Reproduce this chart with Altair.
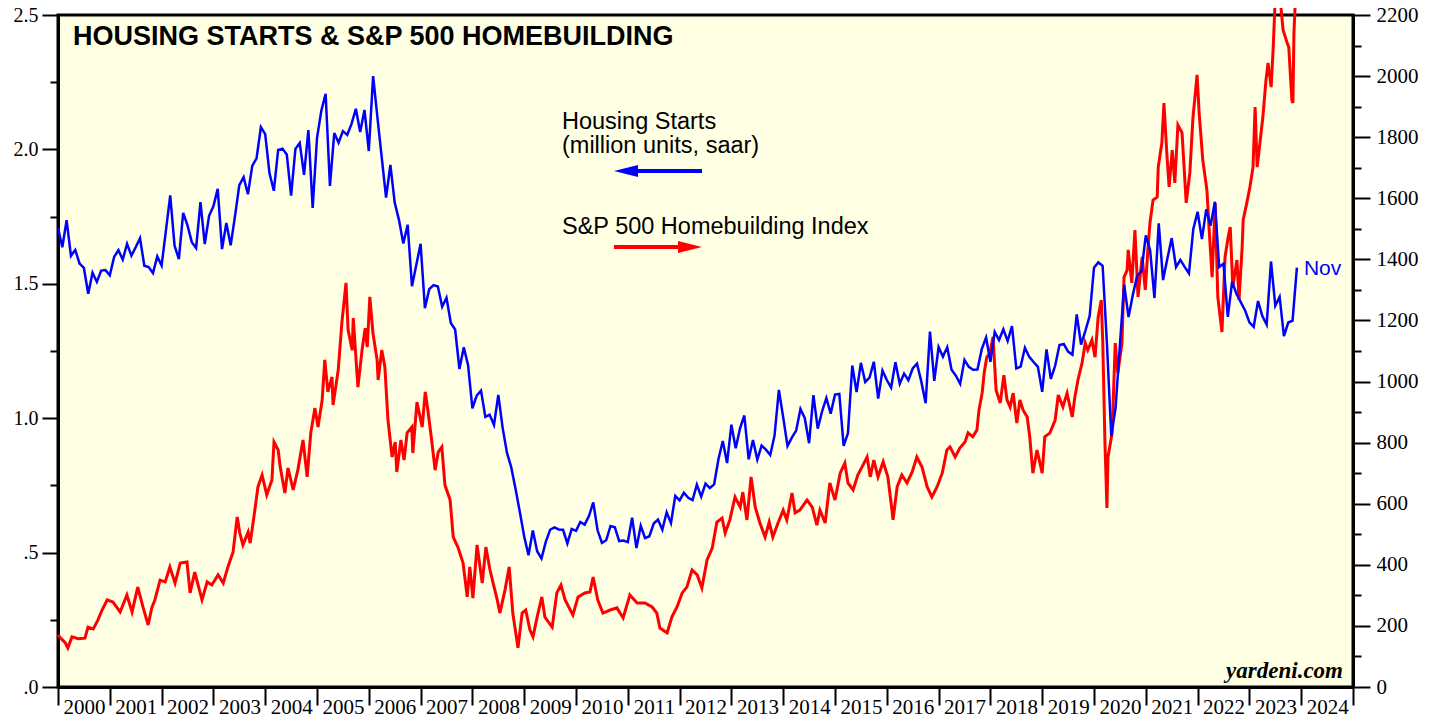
import altair as alt
import pandas as pd

# ---------------- data ----------------
# Housing starts, million units saar, monthly: Dec 1999 .. Nov 2023
housing_starts = [
    1.708,
    1.636, 1.737, 1.604, 1.626, 1.575, 1.559, 1.463, 1.541, 1.507, 1.549, 1.551, 1.532,
    1.600, 1.625, 1.590, 1.649, 1.605, 1.636, 1.670, 1.567, 1.562, 1.540, 1.602, 1.568,
    1.698, 1.829, 1.642, 1.592, 1.764, 1.717, 1.655, 1.633, 1.804, 1.648, 1.753, 1.788,
    1.853, 1.629, 1.726, 1.643, 1.751, 1.867, 1.897, 1.833, 1.939, 1.967, 2.083, 2.057,
    1.911, 1.846, 1.998, 2.003, 1.981, 1.828, 2.002, 2.024, 1.905, 2.072, 1.782, 2.042,
    2.144, 2.207, 1.864, 2.061, 2.025, 2.068, 2.054, 2.095, 2.151, 2.065, 2.147, 1.994,
    2.273, 2.119, 1.969, 1.821, 1.942, 1.802, 1.737, 1.650, 1.720, 1.491, 1.570, 1.649,
    1.409, 1.480, 1.495, 1.490, 1.415, 1.448, 1.354, 1.330, 1.183, 1.264, 1.197, 1.037,
    1.084, 1.103, 1.005, 1.013, 0.975, 1.087, 0.965, 0.872, 0.817, 0.737, 0.650, 0.560,
    0.490, 0.582, 0.505, 0.478, 0.540, 0.585, 0.594, 0.586, 0.585, 0.534, 0.588, 0.581,
    0.614, 0.604, 0.636, 0.687, 0.583, 0.536, 0.546, 0.599, 0.594, 0.543, 0.545, 0.539,
    0.630, 0.517, 0.600, 0.554, 0.561, 0.608, 0.623, 0.585, 0.650, 0.610, 0.711, 0.694,
    0.723, 0.704, 0.695, 0.753, 0.708, 0.757, 0.740, 0.754, 0.847, 0.915, 0.833, 0.976,
    0.888, 0.962, 1.010, 0.847, 0.919, 0.846, 0.898, 0.883, 0.863, 0.936, 1.105, 1.003,
    0.897, 0.928, 0.954, 1.034, 1.000, 0.907, 1.086, 0.961, 1.025, 1.075, 1.017, 1.088,
    1.090, 0.897, 0.944, 1.196, 1.097, 1.206, 1.135, 1.151, 1.210, 1.073, 1.177, 1.142,
    1.114, 1.208, 1.128, 1.166, 1.141, 1.185, 1.203, 1.136, 1.056, 1.322, 1.139, 1.265,
    1.229, 1.264, 1.180, 1.158, 1.128, 1.217, 1.191, 1.180, 1.181, 1.257, 1.300, 1.210,
    1.321, 1.291, 1.331, 1.287, 1.343, 1.185, 1.192, 1.262, 1.228, 1.209, 1.191, 1.098,
    1.256, 1.146, 1.195, 1.272, 1.276, 1.248, 1.236, 1.386, 1.274, 1.325, 1.381, 1.560,
    1.580, 1.567, 1.276, 0.934, 1.038, 1.273, 1.497, 1.376, 1.459, 1.530, 1.547, 1.680,
    1.625, 1.447, 1.725, 1.514, 1.594, 1.670, 1.562, 1.589, 1.563, 1.539, 1.703, 1.768,
    1.666, 1.777, 1.716, 1.805, 1.562, 1.575, 1.377, 1.508, 1.463, 1.432, 1.401, 1.357,
    1.340, 1.436, 1.380, 1.348, 1.583, 1.418, 1.451, 1.305, 1.356, 1.363, 1.560,
]

# S&P 500 Homebuilding index, dates in decimal years
hb_dates = [
    2000.00, 2000.08, 2000.14, 2000.19, 2000.27, 2000.39, 2000.52, 2000.58, 2000.68, 2000.77, 2000.85, 2000.95,
    2001.06, 2001.20, 2001.33, 2001.43, 2001.54, 2001.64, 2001.74, 2001.81, 2001.87, 2001.97,
    2002.07, 2002.16, 2002.26, 2002.36, 2002.49, 2002.55, 2002.64, 2002.78, 2002.88, 2002.97,
    2003.09, 2003.19, 2003.28, 2003.38, 2003.46, 2003.51, 2003.57, 2003.67, 2003.71, 2003.80, 2003.86, 2003.94,
    2004.03, 2004.13, 2004.17, 2004.25, 2004.29, 2004.38, 2004.44, 2004.54, 2004.63, 2004.73, 2004.81, 2004.88, 2004.96,
    2005.02, 2005.10, 2005.15, 2005.21, 2005.29, 2005.31, 2005.41, 2005.48, 2005.56, 2005.60, 2005.68, 2005.70,
    2005.79, 2005.87, 2005.93, 2005.97,
    2006.02, 2006.08, 2006.16, 2006.18, 2006.25, 2006.31, 2006.37, 2006.45, 2006.51, 2006.54, 2006.62, 2006.68,
    2006.74, 2006.83, 2006.85, 2006.93,
    2007.03, 2007.09, 2007.14, 2007.22, 2007.28, 2007.34, 2007.41, 2007.47, 2007.57, 2007.63, 2007.72, 2007.82,
    2007.90, 2007.95,
    2008.01, 2008.09, 2008.19, 2008.26, 2008.34, 2008.40, 2008.48, 2008.53, 2008.63, 2008.71, 2008.78, 2008.88, 2008.96,
    2009.03, 2009.11, 2009.17, 2009.25, 2009.34, 2009.40, 2009.54, 2009.63, 2009.71, 2009.79, 2009.94,
    2010.04, 2010.17, 2010.27, 2010.33, 2010.42, 2010.52, 2010.66, 2010.79, 2010.91,
    2011.04, 2011.18, 2011.33, 2011.47, 2011.56, 2011.62, 2011.76, 2011.85, 2011.95,
    2012.05, 2012.14, 2012.24, 2012.34, 2012.43, 2012.53, 2012.63, 2012.72, 2012.82, 2012.88, 2012.97,
    2013.07, 2013.17, 2013.22, 2013.30, 2013.38, 2013.46, 2013.55, 2013.65, 2013.73, 2013.80, 2013.90,
    2014.00, 2014.07, 2014.17, 2014.23, 2014.32, 2014.46, 2014.56, 2014.65, 2014.71, 2014.81, 2014.90,
    2015.00, 2015.10, 2015.19, 2015.25, 2015.35, 2015.44, 2015.52, 2015.62, 2015.68, 2015.75, 2015.83, 2015.93,
    2016.02, 2016.10, 2016.12, 2016.20, 2016.29, 2016.39, 2016.49, 2016.58, 2016.68, 2016.78, 2016.87, 2016.97,
    2017.07, 2017.16, 2017.22, 2017.32, 2017.41, 2017.51, 2017.57, 2017.66, 2017.74, 2017.78, 2017.84, 2017.88,
    2017.93, 2017.99,
    2018.05, 2018.11, 2018.19, 2018.26, 2018.32, 2018.38, 2018.44, 2018.51, 2018.57, 2018.63, 2018.71, 2018.76,
    2018.82, 2018.90,
    2019.00, 2019.05, 2019.15, 2019.25, 2019.31, 2019.40, 2019.48, 2019.58, 2019.63, 2019.69, 2019.77, 2019.83,
    2019.88, 2019.96,
    2020.02, 2020.08, 2020.14, 2020.17, 2020.21, 2020.25, 2020.27, 2020.35, 2020.41, 2020.46, 2020.54, 2020.58,
    2020.64, 2020.66, 2020.73, 2020.79, 2020.85, 2020.93, 2020.99,
    2021.04, 2021.08, 2021.14, 2021.22, 2021.24, 2021.31, 2021.35, 2021.41, 2021.45, 2021.51, 2021.56, 2021.62,
    2021.70, 2021.78, 2021.85, 2021.91, 2021.99,
    2022.03, 2022.10, 2022.18, 2022.22, 2022.28, 2022.34, 2022.39, 2022.47, 2022.53, 2022.59, 2022.63, 2022.68,
    2022.76, 2022.80, 2022.86, 2022.88, 2022.95,
    2023.01, 2023.07, 2023.11, 2023.15, 2023.21, 2023.26, 2023.32, 2023.36, 2023.42, 2023.46, 2023.51, 2023.59,
    2023.65, 2023.73, 2023.76, 2023.82, 2023.84, 2023.86, 2023.90,
]
hb_values = [
    170, 155, 145, 128, 164, 158, 160, 196, 190, 219, 252, 285,
    278, 246, 301, 246, 327, 262, 203, 259, 285, 350,
    344, 393, 340, 406, 409, 308, 376, 285, 344, 334,
    367, 340, 393, 442, 557, 504, 465, 507, 471, 579, 655, 694,
    629, 678, 802, 776, 720, 635, 717, 645, 710, 809, 688, 832, 913,
    851, 940, 1071, 966, 1015, 923, 1038, 1192, 1323, 1169, 1103, 1208,
    982, 1103, 1175, 1113,
    1277, 1159, 1071, 1005, 1103, 1048, 874, 753, 802, 704, 809, 743,
    832, 851, 766, 933,
    851, 966, 907, 799, 710, 769, 786, 661, 612, 491, 458, 406,
    295, 393,
    291, 465, 340, 458, 383, 340, 285, 242, 318, 393, 242, 128, 242,
    252, 187, 164, 229, 295, 229, 196, 308, 334, 285, 236,
    295, 308, 311, 360, 285, 242, 252, 259, 226,
    301, 275, 275, 262, 242, 193, 177, 229, 262,
    308, 327, 383, 367, 324, 416, 455, 540, 553, 504, 547,
    622, 589, 638, 547, 688, 589, 537, 491, 540, 491, 537,
    579, 547, 635, 570, 579, 612, 589, 530, 579, 537, 668,
    612, 700, 733, 668, 645, 694, 720, 753, 688, 743, 688, 737,
    688, 579, 547, 655, 694, 668, 704, 753, 720, 655, 622, 655,
    700, 776, 786, 753, 782, 802, 832, 819, 841, 907, 962, 1028,
    1080, 1093,
    1146, 972, 930, 1021, 940, 917, 962, 864, 940, 907, 884, 819,
    700, 776,
    700, 819, 832, 874, 956, 917, 962, 884, 949, 1005, 1061, 1126,
    1103, 1136,
    1080, 1211, 1267, 1126, 809, 586, 753, 832, 1126, 1028, 1126, 1342,
    1365, 1431, 1323, 1496, 1277, 1408, 1300,
    1431, 1519, 1594, 1604, 1702, 1781, 1912, 1735, 1637, 1758, 1650, 1840,
    1814, 1585, 1683, 1863, 2004,
    1879, 1725, 1627, 1506, 1342, 1585, 1277, 1162, 1408, 1473, 1506, 1310,
    1398, 1267, 1440, 1529, 1585,
    1637, 1702, 1899, 1702, 1791, 1866, 1987, 2043, 1964, 2095, 2300, 2260,
    2151, 2108, 2095, 1922, 1912, 2141, 2300,
]

year_ticks = list(range(2000, 2026))
left_ticks = [0, 0.25, 0.5, 0.75, 1.0, 1.25, 1.5, 1.75, 2.0, 2.25, 2.5]
right_ticks = list(range(0, 2201, 100))

BLUE = "#0000FF"
RED = "#FF0000"
SERIF = "Liberation Serif"
SANS = "Liberation Sans"

# month-end positions in years (first value = Dec 1999 -> 2000.0)
hs_df = pd.DataFrame({
    "t": [2000 + i / 12 for i in range(len(housing_starts))],
    "v": housing_starts,
})
hb_df = pd.DataFrame({"t": hb_dates, "v": hb_values})
last_df = hs_df.tail(1)

x_enc = alt.X(
    "t:Q",
    scale=alt.Scale(domain=[2000, 2025], nice=False, zero=False),
    axis=alt.Axis(
        title=None, values=year_ticks, grid=False, orient="bottom",
        tickSize=18, tickWidth=2, tickColor="black",
        domainColor="black", domainWidth=3,
        labelOffset=26, labelAlign="center", labelBaseline="alphabetic",
        labelPadding=8, labelFont=SERIF, labelFontSize=21, labelColor="black",
        labelExpr="datum.value >= 2025 ? '' : '' + datum.value",
        labelOverlap=False, labelFlush=False, labelBound=False,
    ),
)

left_axis = alt.Axis(
    title=None, orient="left", values=left_ticks, grid=False,
    tickSize={"condition": {"test": "(datum.value * 2) % 1 == 0", "value": 16}, "value": 8},
    tickWidth=2, tickColor="black", domainColor="black", domainWidth=3,
    labelPadding=4, labelFont=SERIF, labelFontSize=20, labelColor="black",
    labelExpr="(datum.value * 2) % 1 != 0 ? '' : (datum.value < 1 ? replace(format(datum.value, '.1f'), '0.', '.') : format(datum.value, '.1f'))",
    labelOverlap=False, labelFlush=False, labelBound=False,
)

right_axis = alt.Axis(
    title=None, orient="right", values=right_ticks, grid=False,
    tickSize={"condition": {"test": "datum.value % 200 == 0", "value": 17}, "value": 8},
    tickWidth=2, tickColor="black", domainColor="black", domainWidth=3,
    labelPadding=6, labelFont=SERIF, labelFontSize=21, labelColor="black",
    labelExpr="datum.value % 200 != 0 ? '' : format(datum.value, 'd')",
    labelOverlap=False, labelFlush=False, labelBound=False,
)

red_line = alt.Chart(hb_df).mark_line(color=RED, strokeWidth=3, clip=False).encode(
    x=x_enc,
    y=alt.Y("v:Q", scale=alt.Scale(domain=[0, 2200], nice=False), axis=right_axis),
)

blue_line = alt.Chart(hs_df).mark_line(color=BLUE, strokeWidth=2.5).encode(
    x=x_enc,
    y=alt.Y("v:Q", scale=alt.Scale(domain=[0, 2.5], nice=False), axis=left_axis),
)
nov_label = alt.Chart(last_df).mark_text(
    align="left", baseline="middle", dx=7, dy=1, font=SANS, fontSize=21, color=BLUE
).encode(x=alt.X("t:Q"), y=alt.Y("v:Q"), text=alt.value("Nov"))
blue_group = alt.layer(blue_line, nov_label)

one = pd.DataFrame({"k": [0]})

title_txt = alt.Chart(one).mark_text(
    align="left", baseline="alphabetic", font=SANS, fontSize=27, fontWeight="bold", color="black",
    text="HOUSING STARTS & S&P 500 HOMEBUILDING",
).encode(x=alt.value(15), y=alt.value(30))

hs_txt = alt.Chart(one).mark_text(
    align="left", baseline="alphabetic", font=SANS, fontSize=23.5, color="black", lineHeight=24,
    text=["Housing Starts", "(million units, saar)"],
).encode(x=alt.value(504), y=alt.value(114))

hb_txt = alt.Chart(one).mark_text(
    align="left", baseline="alphabetic", font=SANS, fontSize=23.5, color="black",
    text="S&P 500 Homebuilding Index",
).encode(x=alt.value(504), y=alt.value(219))

blue_shaft = alt.Chart(one).mark_rule(color=BLUE, strokeWidth=4).encode(
    x=alt.value(570), x2=alt.value(644), y=alt.value(156))
blue_head = alt.Chart(one).mark_point(
    shape="M -1 0 L 1 -0.5 L 1 0.5 Z", filled=True, color=BLUE, opacity=1, size=576, strokeWidth=0
).encode(x=alt.value(568), y=alt.value(156))

red_shaft = alt.Chart(one).mark_rule(color=RED, strokeWidth=4).encode(
    x=alt.value(556), x2=alt.value(630), y=alt.value(232))
red_head = alt.Chart(one).mark_point(
    shape="M 1 0 L -1 -0.5 L -1 0.5 Z", filled=True, color=RED, opacity=1, size=576, strokeWidth=0
).encode(x=alt.value(632), y=alt.value(232))

yardeni_txt = alt.Chart(one).mark_text(
    align="right", baseline="alphabetic", font=SERIF, fontSize=23, fontWeight="bold",
    fontStyle="italic", color="black", text="yardeni.com",
).encode(x=alt.value(1285), y=alt.value(663))

chart = alt.layer(
    red_line, blue_group,
    title_txt, hs_txt, hb_txt, blue_shaft, blue_head, red_shaft, red_head, yardeni_txt,
).resolve_scale(y="independent").properties(
    width=1295,
    height=672,
    autosize=alt.AutoSizeParams(type="none"),
    padding={"left": 50, "top": 7, "right": 74, "bottom": 32},
    background="white",
).configure_view(
    fill="#FFFFE4", stroke="black", strokeWidth=3
)

chart.save("out.html", embed_options={"renderer": "svg", "actions": False})
